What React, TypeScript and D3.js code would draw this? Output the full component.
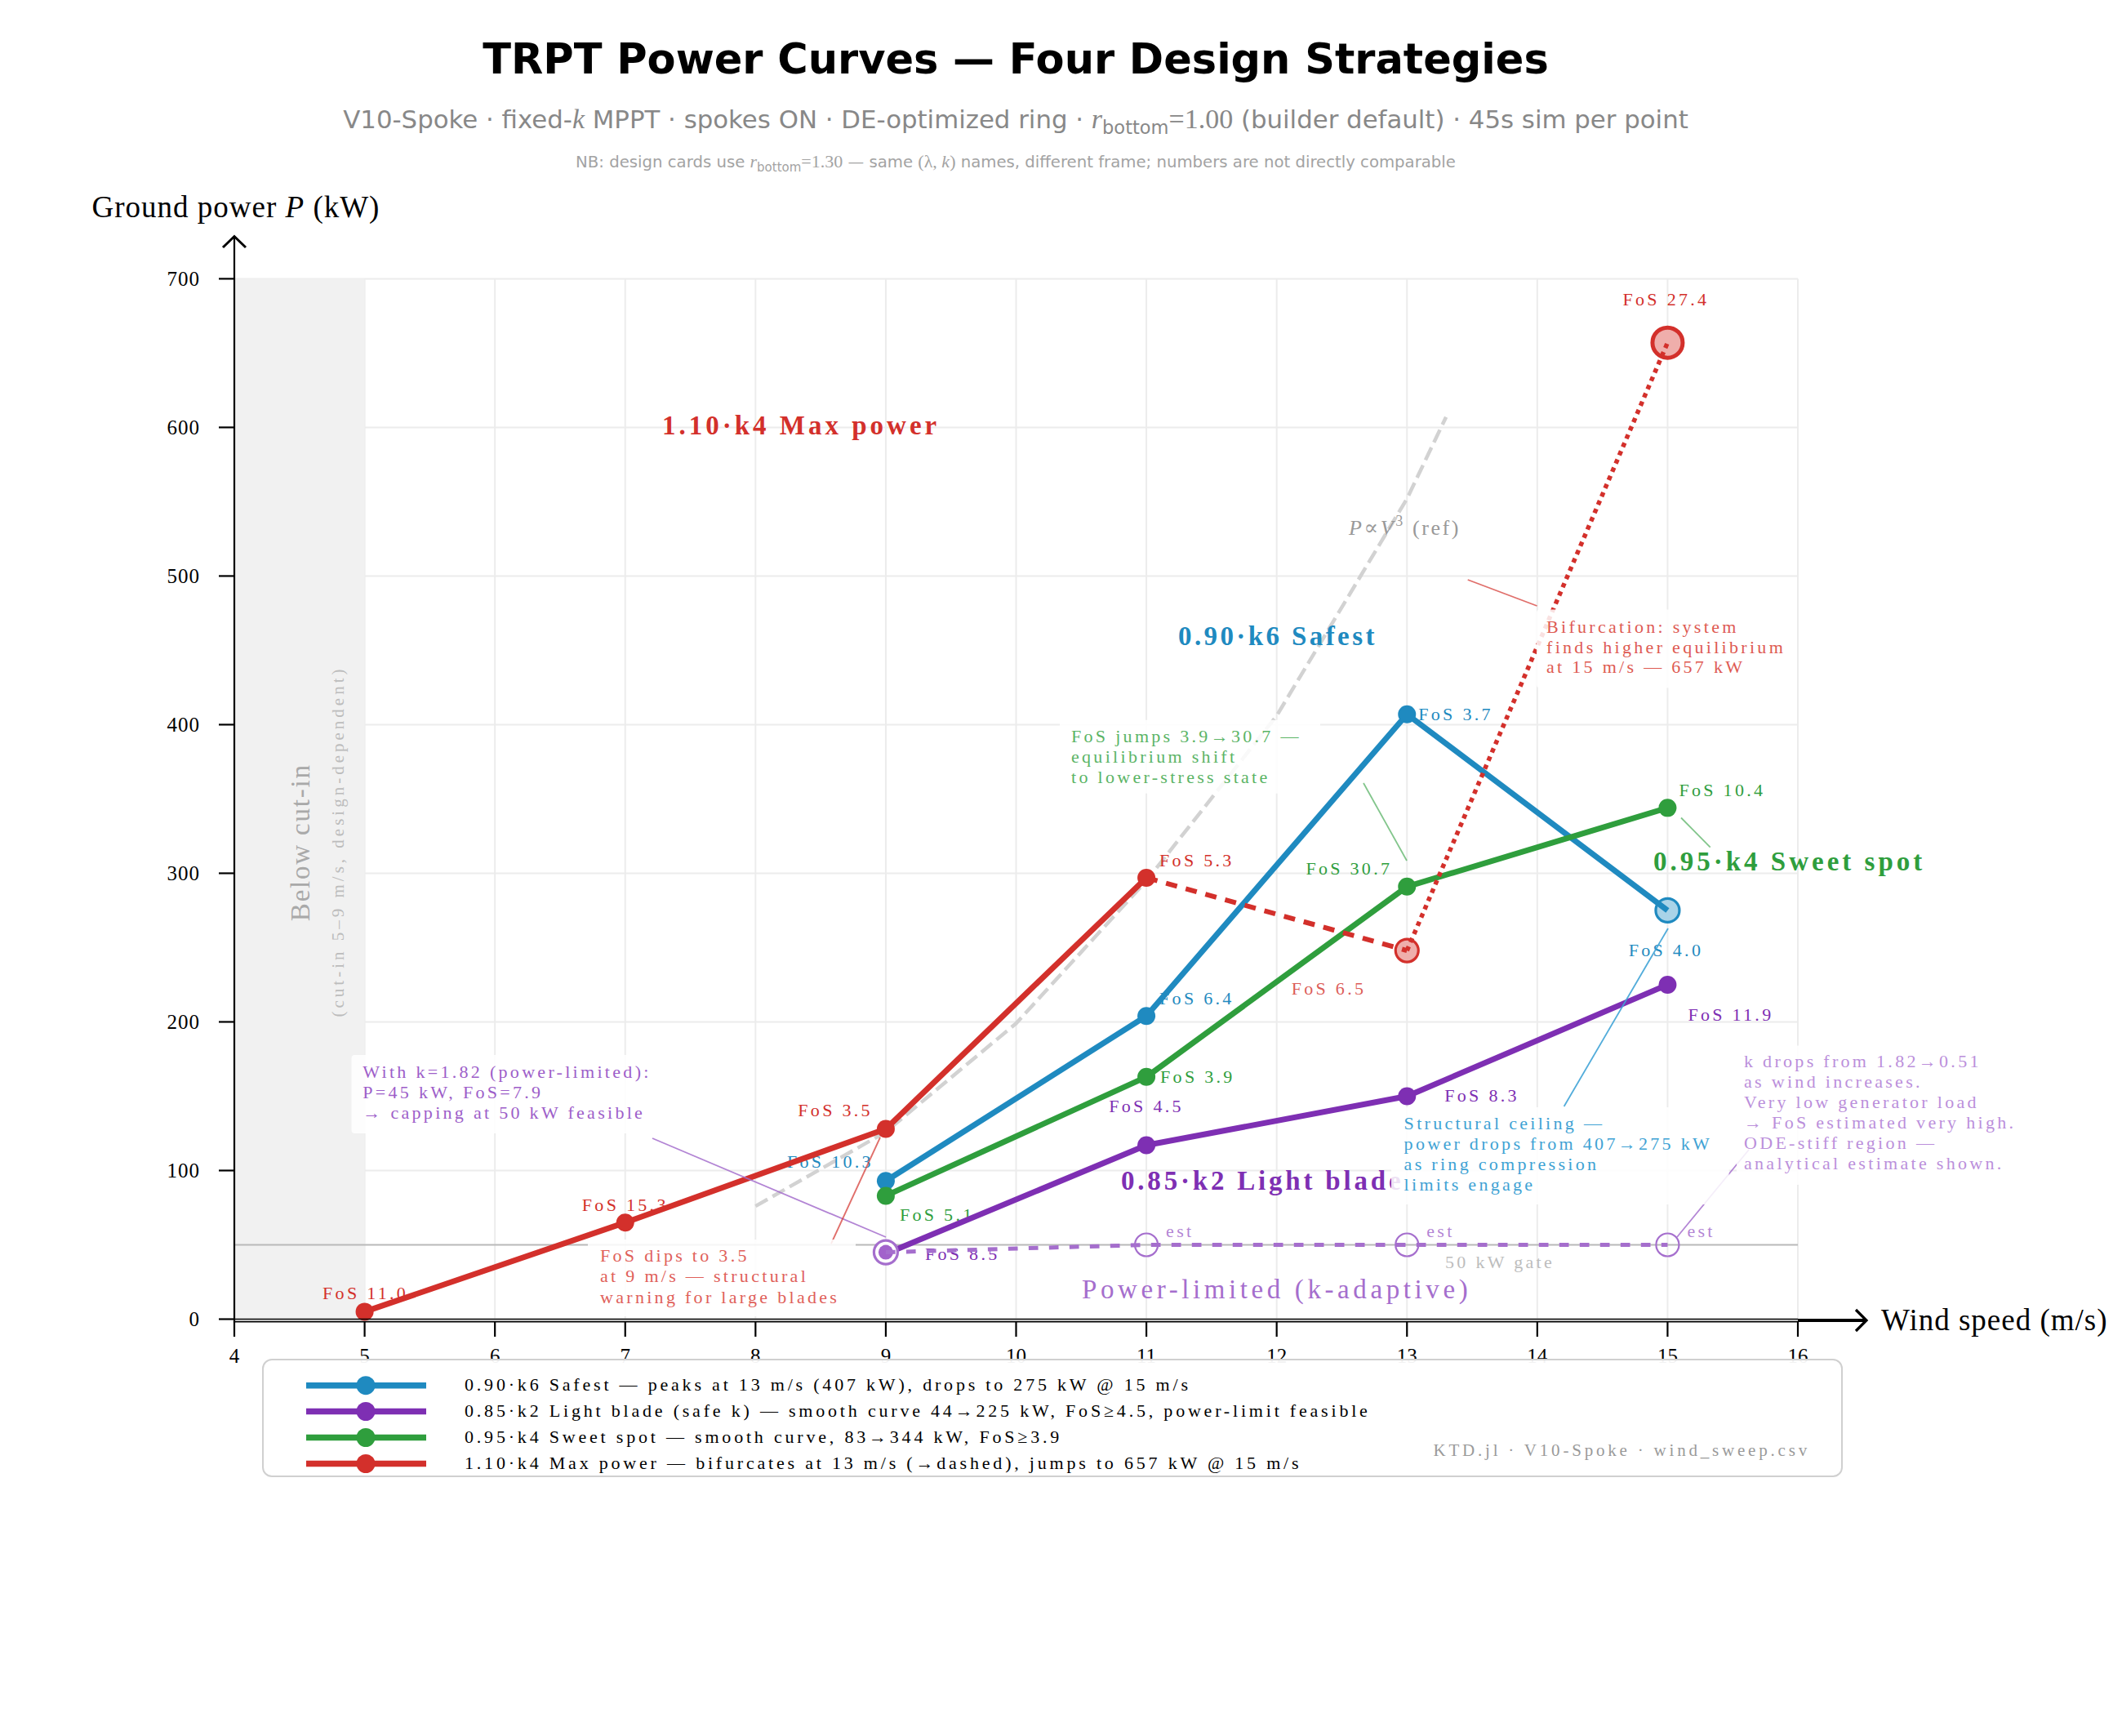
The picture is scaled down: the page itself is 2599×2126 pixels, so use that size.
import React from "react";
import * as d3 from "d3";

// ---------------- data ----------------
const windSafest = [9, 11, 13, 15];
const powerSafest = [93, 204, 407, 275];
const fosSafest = ["10.3", "6.4", "3.7", "4.0"];

const windLight = [9, 11, 13, 15];
const powerLight = [44, 117, 150, 225];
const fosLight = ["8.5", "4.5", "8.3", "11.9"];

const windSweet = [9, 11, 13, 15];
const powerSweet = [83, 163, 291, 344];
const fosSweet = ["5.1", "3.9", "30.7", "10.4"];

const windMax = [5, 7, 9, 11, 13, 15];
const powerMax = [5, 65, 128, 297, 248, 657];
const fosMax = ["11.0", "15.3", "3.5", "5.3", "6.5", "27.4"];

const windLimited = [9, 11, 13, 15];
const powerLimited = [45, 50, 50, 50];

const refWind = [8, 9, 10, 11, 12, 13, 13.3];
const refPower = [76, 126, 199, 295, 406, 552, 607];

const gateKW = 50;
const cutInWind = [4, 5];

const xTicks = [4, 5, 6, 7, 8, 9, 10, 11, 12, 13, 14, 15, 16];
const yTicks = [0, 100, 200, 300, 400, 500, 600, 700];

const seriesNames = ["0.90·k6 Safest", "0.85·k2 Light blade", "0.95·k4 Sweet spot", "1.10·k4 Max power"];
const legendLabels = [
  "0.90·k6 Safest — peaks at 13 m/s (407 kW), drops to 275 kW @ 15 m/s",
  "0.85·k2 Light blade (safe k) — smooth curve 44→225 kW, FoS≥4.5, power-limit feasible",
  "0.95·k4 Sweet spot — smooth curve, 83→344 kW, FoS≥3.9",
  "1.10·k4 Max power — bifurcates at 13 m/s (→dashed), jumps to 657 kW @ 15 m/s",
];

const noteBifurcation = ["Bifurcation: system", "finds higher equilibrium", "at 15 m/s — 657 kW"];
const noteJump = ["FoS jumps 3.9→30.7 —", "equilibrium shift", "to lower-stress state"];
const noteCeiling = ["Structural ceiling —", "power drops from 407→275 kW", "as ring compression", "limits engage"];
const noteKDrops = [
  "k drops from 1.82→0.51",
  "as wind increases.",
  "Very low generator load",
  "→ FoS estimated very high.",
  "ODE-stiff region —",
  "analytical estimate shown.",
];
const noteK182 = ["With k=1.82 (power-limited):", "P=45 kW, FoS=7.9", "→ capping at 50 kW feasible"];
const noteDips = ["FoS dips to 3.5", "at 9 m/s — structural", "warning for large blades"];

// ---------------- styles ----------------
const SERIF = "'Liberation Serif', 'DejaVu Serif', serif";
const SANS = "'DejaVu Sans', sans-serif";
const C_BLUE = "#1f8ac0";
const C_PURPLE = "#7e2fb3";
const C_GREEN = "#2f9e3d";
const C_RED = "#d3302b";
const C_LIM = "#a56ecd";
const W = 2599;
const H = 2126;

const x = d3.scaleLinear().domain([4, 16]).range([287, 2202]);
const y = d3.scaleLinear().domain([0, 700]).range([1615.5, 341.4]);

const line = d3
  .line<[number, number]>()
  .x((d) => x(d[0]))
  .y((d) => y(d[1]));

const zip = (a: number[], b: number[]) => a.map((v, i) => [v, b[i]] as [number, number]);

const SM = 22; // small annotation font
const LS = 3.3;

function Note(props: {
  x: number;
  y: number;
  lines: string[];
  color: string;
  size?: number;
  ls?: number;
  lh?: number;
  anchor?: string;
  weight?: string;
  opacity?: number;
}) {
  const { x: tx, y: ty, lines, color, size = SM, ls = LS, lh = 24.7, anchor = "start", weight = "normal", opacity = 1 } = props;
  return (
    <text
      x={tx}
      y={ty}
      fontFamily={SERIF}
      fontSize={size}
      fontWeight={weight}
      letterSpacing={ls}
      fill={color}
      fillOpacity={opacity}
      textAnchor={anchor as any}
    >
      {lines.map((l, i) => (
        <tspan key={i} x={tx} dy={i === 0 ? 0 : lh}>
          {l}
        </tspan>
      ))}
    </text>
  );
}

function FosLabels(props: { wind: number[]; power: number[]; fos: string[]; color: string; offs: [number, number, string][]; opac?: number[] }) {
  const { wind, power, fos, color, offs, opac } = props;
  return (
    <g>
      {wind.map((w, i) => (
        <text
          key={i}
          x={x(w) + offs[i][0]}
          y={y(power[i]) + offs[i][1]}
          textAnchor={offs[i][2] as any}
          fontFamily={SERIF}
          fontSize={SM}
          letterSpacing={LS}
          fill={color}
          fillOpacity={opac ? opac[i] : 1}
        >
          {"FoS " + fos[i]}
        </text>
      ))}
    </g>
  );
}

export default function App() {
  const safest = zip(windSafest, powerSafest);
  const light = zip(windLight, powerLight);
  const sweet = zip(windSweet, powerSweet);
  const maxp = zip(windMax, powerMax);
  const limited = zip(windLimited, powerLimited);
  const ref = zip(refWind, refPower);

  const legendColors = [C_BLUE, C_PURPLE, C_GREEN, C_RED];
  const legendRowY = [1696.7, 1728.5, 1760.5, 1792.5];

  return (
    <svg
      width={W}
      height={H}
      viewBox={`0 0 ${W} ${H}`}
      style={{ position: "absolute", left: 0, top: 0, background: "#fff" }}
    >
      <rect x={0} y={0} width={W} height={H} fill="#fff" />

      {/* grid */}
      <g stroke="#ececec" strokeWidth={2}>
        {xTicks.map((t) => (
          <line key={"gx" + t} x1={x(t)} x2={x(t)} y1={y(0)} y2={y(700)} />
        ))}
        {yTicks.map((t) => (
          <line key={"gy" + t} x1={x(4)} x2={x(16)} y1={y(t)} y2={y(t)} />
        ))}
      </g>

      {/* below cut-in band */}
      <rect x={x(cutInWind[0])} y={y(700)} width={x(cutInWind[1]) - x(cutInWind[0])} height={y(0) - y(700)} fill="#f1f1f1" />
      <text transform={`translate(379,1031.7) rotate(-90)`} textAnchor="middle" fontFamily={SERIF} fontSize={33} letterSpacing={1.8} fill="#a9a9a9">
        Below cut-in
      </text>
      <text transform={`translate(421,1030.5) rotate(-90)`} textAnchor="middle" fontFamily={SERIF} fontSize={21} letterSpacing={4} fill="#bcbcbc">
        (cut-in 5–9 m/s, design-dependent)
      </text>

      {/* 50 kW gate */}
      <line x1={x(4)} x2={x(16)} y1={y(gateKW)} y2={y(gateKW)} stroke="#b9b9b9" strokeWidth={2.2} />
      <text x={1770} y={1553} fontFamily={SERIF} fontSize={SM} letterSpacing={LS} fill="#bdbdbd">
        50 kW gate
      </text>

      {/* P ~ V^3 reference */}
      <path d={line(ref) || ""} fill="none" stroke="#d2d2d2" strokeWidth={4.5} strokeDasharray="17 7" />
      <text x={1652} y={655} fontFamily={SERIF} fontSize={26} fill="#999" letterSpacing={2.6}>
        <tspan fontStyle="italic">P</tspan>
        <tspan>∝</tspan>
        <tspan fontStyle="italic">V</tspan>
        <tspan fontSize={18} dy={-11}>3</tspan>
        <tspan dy={11}>{"  (ref)"}</tspan>
      </text>

      {/* FoS labels (under lines) */}
      <FosLabels wind={windSafest} power={powerSafest} fos={fosSafest} color={C_BLUE}
        offs={[[-15, -16, "end"], [16, -14, "start"], [14, 7, "start"], [-2, 56, "middle"]]} />
      <FosLabels wind={windSweet} power={powerSweet} fos={fosSweet} color={C_GREEN}
        offs={[[17, 31, "start"], [17, 7, "start"], [-18, -15, "end"], [14, -14, "start"]]} />
      <FosLabels wind={windLight} power={powerLight} fos={fosLight} color={C_PURPLE}
        offs={[[48, 8, "start"], [0, -41, "middle"], [46, 7, "start"], [25, 44, "start"]]} />
      <FosLabels wind={windMax} power={powerMax} fos={fosMax} color={C_RED}
        offs={[[1, -15, "middle"], [0, -14, "middle"], [-16, -16, "end"], [16, -14, "start"], [-50, 54, "end"], [-2, -46, "middle"]]}
        opac={[1, 1, 1, 1, 0.8, 1]} />

      {/* est labels */}
      {windLimited.slice(1).map((w, i) => (
        <text key={"est" + i} x={x(w) + 24} y={y(powerLimited[i + 1]) - 9} fontFamily={SERIF} fontSize={SM} letterSpacing={LS} fill={C_LIM} fillOpacity={0.85}>
          est
        </text>
      ))}

      {/* special (hollow / light) markers under lines */}
      <circle cx={x(safest[3][0])} cy={y(safest[3][1])} r={14.5} fill="#a9d3e8" stroke={C_BLUE} strokeWidth={3.2} />
      <circle cx={x(maxp[4][0])} cy={y(maxp[4][1])} r={14} fill="#efaeab" stroke={C_RED} strokeWidth={3.2} />
      <circle cx={x(maxp[5][0])} cy={y(maxp[5][1])} r={18.5} fill="#efaeab" stroke={C_RED} strokeWidth={5} />

      {/* series lines */}
      <path d={line(safest) || ""} fill="none" stroke={C_BLUE} strokeWidth={7} strokeLinejoin="round" />
      <path d={line(light) || ""} fill="none" stroke={C_PURPLE} strokeWidth={7} strokeLinejoin="round" />
      <path d={line(sweet) || ""} fill="none" stroke={C_GREEN} strokeWidth={7} strokeLinejoin="round" />
      <path d={line(maxp.slice(0, 4)) || ""} fill="none" stroke={C_RED} strokeWidth={7} strokeLinejoin="round" />
      <path d={line(maxp.slice(3, 5)) || ""} fill="none" stroke={C_RED} strokeWidth={6} strokeDasharray="14 11" />
      <path d={line(maxp.slice(4, 6)) || ""} fill="none" stroke={C_RED} strokeWidth={5.5} strokeDasharray="5.5 5.5" />

      {/* power-limited markers + line */}
      <circle cx={x(limited[0][0])} cy={y(limited[0][1])} r={14.5} fill="#fff" stroke={C_LIM} strokeWidth={3.2} />
      <circle cx={x(limited[0][0])} cy={y(limited[0][1])} r={9} fill="#a262cb" />
      <path d={line(limited) || ""} fill="none" stroke={C_LIM} strokeWidth={5} strokeDasharray="11.7 13.3" />
      {limited.slice(1).map((p, i) => (
        <circle key={"lm" + i} cx={x(p[0])} cy={y(p[1])} r={14} fill="none" stroke={C_LIM} strokeWidth={2.2} />
      ))}

      {/* filled markers */}
      {safest.slice(0, 3).map((p, i) => (
        <circle key={"bs" + i} cx={x(p[0])} cy={y(p[1])} r={11} fill={C_BLUE} />
      ))}
      {light.map((p, i) =>
        i === 0 ? null : <circle key={"pl" + i} cx={x(p[0])} cy={y(p[1])} r={11} fill={C_PURPLE} />
      )}
      {sweet.map((p, i) => (
        <circle key={"gs" + i} cx={x(p[0])} cy={y(p[1])} r={11} fill={C_GREEN} />
      ))}
      {maxp.slice(0, 4).map((p, i) => (
        <circle key={"rm" + i} cx={x(p[0])} cy={y(p[1])} r={11} fill={C_RED} />
      ))}

      {/* big series labels */}
      <text x={1443} y={790} fontFamily={SERIF} fontSize={33} fontWeight="bold" letterSpacing={3.4} fill={C_BLUE}>
        {seriesNames[0]}
      </text>
      <text x={1373} y={1457} fontFamily={SERIF} fontSize={33} fontWeight="bold" letterSpacing={3.8} fill={C_PURPLE}>
        {seriesNames[1]}
      </text>
      <text x={2025} y={1066} fontFamily={SERIF} fontSize={33} fontWeight="bold" letterSpacing={4} fill={C_GREEN}>
        {seriesNames[2]}
      </text>
      <text x={811} y={532} fontFamily={SERIF} fontSize={33} fontWeight="bold" letterSpacing={4} fill={C_RED}>
        {seriesNames[3]}
      </text>
      <text x={1325} y={1590} fontFamily={SERIF} fontSize={33} letterSpacing={4.6} fill={C_LIM}>
        Power-limited (k-adaptive)
      </text>

      {/* annotation connectors */}
      <g strokeWidth={1.8} fill="none">
        <line x1={1797.7} y1={710} x2={1882.5} y2={742} stroke={C_RED} strokeOpacity={0.7} />
        <line x1={1670} y1={959} x2={1723} y2={1054} stroke={C_GREEN} strokeOpacity={0.6} />
        <line x1={2059} y1={1001.5} x2={2094.7} y2={1037.6} stroke={C_GREEN} strokeOpacity={0.6} />
        <line x1={1915.6} y1={1355} x2={2043} y2={1137} stroke="#3fa3d6" strokeOpacity={0.9} />
        <line x1={2054} y1={1515} x2={2142} y2={1408} stroke={C_LIM} strokeOpacity={0.85} />
        <line x1={799} y1={1394} x2={1085} y2={1515} stroke={C_LIM} strokeOpacity={0.85} />
        <line x1={1018} y1={1523} x2={1078} y2={1393} stroke={C_RED} strokeOpacity={0.7} />
      </g>

      {/* annotation boxes */}
      <g fill="#fff" fillOpacity={0.86}>
        <rect x={1882} y={746.6} width={319} height={96} rx={4} />
        <rect x={1298} y={881.7} width={319} height={90} rx={4} />
        <rect x={1704} y={1356} width={413.6} height={119} rx={4} />
        <rect x={2127} y={1280.6} width={365} height={170.4} rx={4} />
        <rect x={430.5} y={1292} width={396} height={96} rx={4} />
        <rect x={720} y={1518} width={328} height={94} rx={4} />
      </g>

      <Note x={1894} y={775} lines={noteBifurcation} color="#de5a52" />
      <Note x={1312} y={909.3} lines={noteJump} color="#5bb466" />
      <Note x={1719.6} y={1383.4} lines={noteCeiling} color="#3ea2d4" />
      <Note x={2136} y={1307} lines={noteKDrops} color="#bb8fdb" lh={25} />
      <Note x={444.3} y={1320} lines={noteK182} color="#9d5ec9" lh={25} />
      <Note x={735} y={1545} lines={noteDips} color="#e0605a" lh={25.3} />

      {/* axes */}
      <line x1={x(4)} x2={x(16)} y1={y(0)} y2={y(0)} stroke="#000" strokeWidth={1.6} />
      <line x1={x(4)} x2={x(16)} y1={1618.6} y2={1618.6} stroke="#000" strokeWidth={1.8} />
      <line x1={x(4)} x2={x(4)} y1={1619.5} y2={290} stroke="#000" strokeWidth={2.2} />
      <path d="M273,303 L287,289.5 L301,303" fill="none" stroke="#000" strokeWidth={3} />
      <line x1={x(16)} x2={2285} y1={1617} y2={1617} stroke="#000" strokeWidth={4.2} />
      <path d="M2273,1604 L2286,1617 L2273,1630" fill="none" stroke="#000" strokeWidth={3.2} />

      {yTicks.map((t) => (
        <g key={"yt" + t}>
          <line x1={268} x2={x(4)} y1={y(t)} y2={y(t)} stroke="#000" strokeWidth={2.2} />
          <text x={245} y={y(t) + 8.5} textAnchor="end" fontFamily={SERIF} fontSize={25} letterSpacing={1} fill="#000">
            {t}
          </text>
        </g>
      ))}
      {xTicks.map((t) => (
        <g key={"xt" + t}>
          <line x1={x(t)} x2={x(t)} y1={1618} y2={1637} stroke="#000" strokeWidth={2.2} />
          <text x={x(t)} y={1669} textAnchor="middle" fontFamily={SERIF} fontSize={25} fill="#000">
            {t}
          </text>
        </g>
      ))}

      <text x={112.5} y={266} fontFamily={SERIF} fontSize={37} letterSpacing={1} fill="#000">
        Ground power <tspan fontStyle="italic">P</tspan> (kW)
      </text>
      <text x={2304} y={1629} fontFamily={SERIF} fontSize={37} letterSpacing={1} fill="#000">
        Wind speed (m/s)
      </text>

      {/* legend */}
      <rect x={322} y={1665} width={1934} height={143} rx={11} fill="#fff" fillOpacity={0.95} stroke="#d0d0d0" strokeWidth={2} />
      {legendLabels.map((lab, i) => (
        <g key={"lg" + i}>
          <line x1={375} x2={522} y1={legendRowY[i]} y2={legendRowY[i]} stroke={legendColors[i]} strokeWidth={7.5} />
          <circle cx={448} cy={legendRowY[i]} r={11.5} fill={legendColors[i]} />
          <text x={569} y={legendRowY[i] + 6} fontFamily={SERIF} fontSize={SM} letterSpacing={3.8} fill="#000">
            {lab}
          </text>
        </g>
      ))}
      <text x={2217} y={1783} textAnchor="end" fontFamily={SERIF} fontSize={21} letterSpacing={3.8} fill="#9a9a9a">
        KTD.jl · V10-Spoke · wind_sweep.csv
      </text>

      {/* titles */}
      <text x={1244} y={90} textAnchor="middle" fontFamily={SANS} fontSize={51} fontWeight="bold" fill="#000">
        TRPT Power Curves — Four Design Strategies
      </text>
      <text x={1244} y={157} textAnchor="middle" fontFamily={SANS} fontSize={30.8} fill="#888">
        V10-Spoke · fixed-<tspan fontFamily={SERIF} fontStyle="italic" fontSize={34}>k</tspan> MPPT · spokes ON · DE-optimized ring ·{" "}
        <tspan fontFamily={SERIF} fontStyle="italic" fontSize={34}>r</tspan>
        <tspan fontSize={22.5} dy={7}>bottom</tspan>
        <tspan dy={-7} fontFamily={SERIF} fontSize={34}>=1.00</tspan> (builder default) · 45s sim per point
      </text>
      <text x={1244} y={205} textAnchor="middle" fontFamily={SANS} fontSize={19.7} fill="#a3a3a3">
        NB: design cards use <tspan fontFamily={SERIF} fontStyle="italic" fontSize={22}>r</tspan>
        <tspan fontSize={15} dy={4.5}>bottom</tspan>
        <tspan dy={-4.5} fontFamily={SERIF} fontSize={22}>=1.30</tspan> — same <tspan fontFamily={SERIF} fontSize={22}>(λ, <tspan fontStyle="italic">k</tspan>)</tspan> names, different frame; numbers are not directly comparable
      </text>
    </svg>
  );
}
